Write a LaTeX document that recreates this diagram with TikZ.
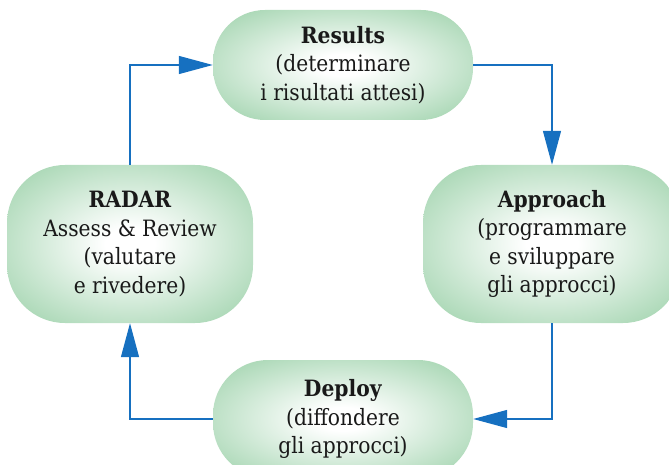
\documentclass[tikz,border=0pt]{standalone}
\usepackage{fontspec}
\setmainfont{DejaVu Serif Condensed}
\usetikzlibrary{arrows.meta}
\definecolor{nodegreen}{RGB}{160,211,173}
\definecolor{arrowblue}{RGB}{22,112,192}
\pgfdeclareradialshading{glow}{\pgfpoint{0bp}{0bp}}{color(0bp)=(white); color(5bp)=(white); color(34bp)=(nodegreen); color(50bp)=(nodegreen)}
\tikzset{
  box/.style={shading=glow, align=center, inner sep=0pt, text=black!90, font=\fontsize{22.5}{28.5}\selectfont},
  conn/.style={draw=arrowblue, line width=1.3pt, -{Triangle[length=34pt,width=18pt]}}
}
\begin{document}
\begin{tikzpicture}[x=1pt,y=-1pt]
\useasboundingbox (0,0) rectangle (669,465);
\clip (0,0) rectangle (669,465);
\node[box, rounded corners=52pt, minimum width=260pt, minimum height=110pt] (results) at (343,65)
  {\textbf{Results}\\(determinare\\i risultati attesi)};
\node[box, rounded corners=58pt, minimum width=258pt, minimum height=158pt] (approach) at (552,244)
  {\textbf{Approach}\\(programmare\\e sviluppare\\gli approcci)};
\node[box, rounded corners=55pt, minimum width=260pt, minimum height=118pt] (deploy) at (343,419)
  {\textbf{Deploy}\\(diffondere\\gli approcci)};
\node[box, rounded corners=58pt, minimum width=246pt, minimum height=158pt] (radar) at (130,244)
  {\textbf{RADAR}\\Assess \& Review\\(valutare\\e rivedere)};
\draw[conn] (radar.north) |- (results.west);
\draw[conn] (results.east) -| (approach.north);
\draw[conn] (approach.south) |- (deploy.east);
\draw[conn] (deploy.west) -| (radar.south);
\end{tikzpicture}
\end{document}
